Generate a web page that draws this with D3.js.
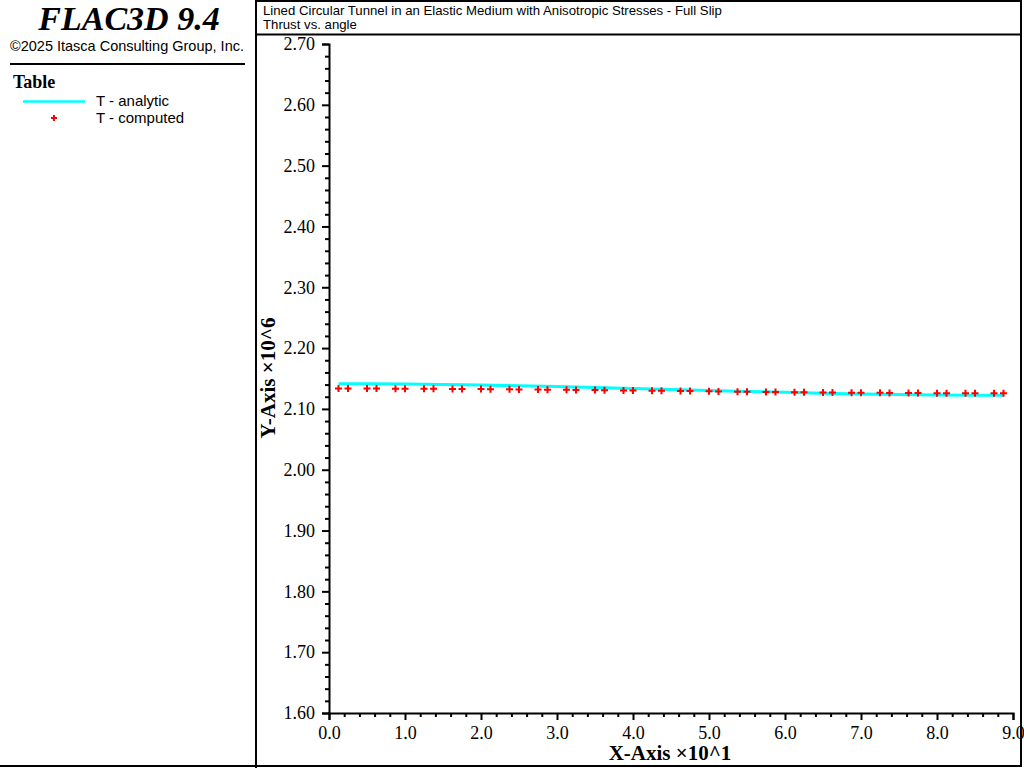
<!DOCTYPE html>
<html><head><meta charset="utf-8">
<script src="https://cdn.jsdelivr.net/npm/d3@7"></script>
<style>
html,body{margin:0;padding:0;background:#fff;}
svg{display:block;}
</style></head>
<body>
<svg id="c" width="1024" height="768"></svg>
<script>
// ---- data (Y in units of 10^6, X in degrees) ----
const analyticX = [1.25, 5, 10, 15, 20, 25, 30, 35, 40, 45, 50, 55, 60, 65, 70, 75, 80, 85, 88.75];
const analyticY = [2.1414, 2.1413, 2.1408, 2.1401, 2.1392, 2.1380, 2.1367, 2.1351, 2.1336, 2.1319,
                   2.1302, 2.1287, 2.1272, 2.1258, 2.1246, 2.1237, 2.1230, 2.1225, 2.1224];
const computedX = [1.25, 2.5, 5, 6.25, 8.75, 10, 12.5, 13.75, 16.25, 17.5, 20, 21.25, 23.75, 25,
                   27.5, 28.75, 31.25, 32.5, 35, 36.25, 38.75, 40, 42.5, 43.75, 46.25, 47.5, 50,
                   51.25, 53.75, 55, 57.5, 58.75, 61.25, 62.5, 65, 66.25, 68.75, 70, 72.5, 73.75,
                   76.25, 77.5, 80, 81.25, 83.75, 85, 87.5, 88.75];
const computedY = [2.1335, 2.1335, 2.1334, 2.1334, 2.1333, 2.1333, 2.1331, 2.1331, 2.1329, 2.1328,
                   2.1326, 2.1325, 2.1322, 2.1321, 2.1318, 2.1317, 2.1314, 2.1312, 2.1309, 2.1308,
                   2.1304, 2.1303, 2.1299, 2.1298, 2.1294, 2.1293, 2.1289, 2.1288, 2.1284, 2.1283,
                   2.1280, 2.1278, 2.1275, 2.1274, 2.1271, 2.1270, 2.1267, 2.1266, 2.1264, 2.1263,
                   2.1261, 2.1261, 2.1259, 2.1259, 2.1258, 2.1258, 2.1257, 2.1257];
const xMajorTicks = [0, 10, 20, 30, 40, 50, 60, 70, 80, 90];
const xTickLabels = ["0.0", "1.0", "2.0", "3.0", "4.0", "5.0", "6.0", "7.0", "8.0", "9.0"];
const yMajorTicks = [1.6, 1.7, 1.8, 1.9, 2.0, 2.1, 2.2, 2.3, 2.4, 2.5, 2.6, 2.7];
const yTickLabels = ["1.60", "1.70", "1.80", "1.90", "2.00", "2.10", "2.20", "2.30", "2.40", "2.50", "2.60", "2.70"];
const legendLabels = ["T - analytic", "T - computed"];

const svg = d3.select("#c");
const serif = "'Liberation Serif','Times New Roman',serif";
const sans = "'Liberation Sans',Arial,sans-serif";

// frames
const frame = (x1, y1, x2, y2) => svg.append("line").attr("x1", x1).attr("y1", y1).attr("x2", x2).attr("y2", y2)
  .attr("stroke", "#000").attr("stroke-width", 2);
frame(256, 0, 256, 768);
frame(255, 1, 1022, 1);
frame(256, 34.5, 1022, 34.5);
frame(1021, 0, 1021, 767);
frame(0, 766, 1022, 766);

// left panel
svg.append("text").attr("x", 129).attr("y", 30).attr("text-anchor", "middle")
  .attr("font-family", serif).attr("font-weight", "bold").attr("font-style", "italic")
  .attr("font-size", 34).text("FLAC3D 9.4");
svg.append("text").attr("x", 127).attr("y", 51).attr("text-anchor", "middle")
  .attr("font-family", sans).attr("font-size", 14.5).text("©2025 Itasca Consulting Group, Inc.");
svg.append("line").attr("x1", 10).attr("x2", 245).attr("y1", 64).attr("y2", 64)
  .attr("stroke", "#000").attr("stroke-width", 2);
svg.append("text").attr("x", 13).attr("y", 88).attr("font-family", serif)
  .attr("font-weight", "bold").attr("font-size", 18).text("Table");
svg.append("line").attr("x1", 23).attr("x2", 85).attr("y1", 101.5).attr("y2", 101.5)
  .attr("stroke", "#00ffff").attr("stroke-width", 2.5);
svg.append("text").attr("x", 96).attr("y", 106).attr("font-family", sans)
  .attr("font-size", 15).text(legendLabels[0]);
const lp = svg.append("g").attr("transform", "translate(54,118)");
lp.append("path").attr("d", "M-3,0H3M0,-3V3").attr("stroke", "#ff0000").attr("stroke-width", 2);
svg.append("text").attr("x", 96).attr("y", 123).attr("font-family", sans)
  .attr("font-size", 15).text(legendLabels[1]);

// chart title
svg.append("text").attr("x", 263).attr("y", 15).attr("font-family", sans)
  .attr("font-size", 13.2).text("Lined Circular Tunnel in an Elastic Medium with Anisotropic Stresses - Full Slip");
svg.append("text").attr("x", 263).attr("y", 29).attr("font-family", sans)
  .attr("font-size", 13.2).text("Thrust vs. angle");

// scales
const x = d3.scaleLinear().domain([0, 90]).range([329, 1013]);
const y = d3.scaleLinear().domain([1.6, 2.7]).range([713, 44]);

const xMinor = d3.range(0, 91, 2).filter(v => v % 10 !== 0);
const yMinor = d3.range(0, 56).map(i => +(1.6 + i * 0.02).toFixed(2)).filter(v => Math.abs(v * 10 - Math.round(v * 10)) > 1e-6);

// x axis
const gx = svg.append("g").attr("transform", `translate(0,${y(1.6)})`);
gx.call(d3.axisBottom(x).tickValues(xMinor).tickSize(4).tickFormat(""))
  .call(g => g.select(".domain").remove());
const gx2 = svg.append("g").attr("transform", `translate(0,${y(1.6)})`);
gx2.call(d3.axisBottom(x).tickValues(xMajorTicks).tickSizeOuter(0).tickSize(7)
  .tickFormat((d, i) => xTickLabels[i]).tickPadding(6));
gx2.selectAll("text").attr("font-family", serif).attr("font-size", 18).attr("fill", "#000");

// y axis
const gy = svg.append("g").attr("transform", `translate(${x(0)},0)`);
gy.call(d3.axisLeft(y).tickValues(yMinor).tickSize(4).tickFormat(""))
  .call(g => g.select(".domain").remove());
const gy2 = svg.append("g").attr("transform", `translate(${x(0)},0)`);
gy2.call(d3.axisLeft(y).tickValues(yMajorTicks).tickSizeOuter(0).tickSize(7)
  .tickFormat((d, i) => yTickLabels[i]).tickPadding(7));
gy2.selectAll("text").attr("font-family", serif).attr("font-size", 18).attr("fill", "#000");
svg.selectAll(".tick line, .domain").attr("stroke-width", 2).attr("stroke", "#000");

// axis titles
svg.append("text").attr("x", 670).attr("y", 760).attr("text-anchor", "middle")
  .attr("font-family", serif).attr("font-weight", "bold").attr("font-size", 21).text("X-Axis ×10^1");
svg.append("text").attr("transform", "translate(275,378) rotate(-90)").attr("text-anchor", "middle")
  .attr("font-family", serif).attr("font-weight", "bold").attr("font-size", 21).text("Y-Axis ×10^6");

// analytic line
const line = d3.line().x(d => x(d[0])).y(d => y(d[1]));
svg.append("path").datum(analyticX.map((v, i) => [v, analyticY[i]]))
  .attr("d", line).attr("fill", "none").attr("stroke", "#00ffff").attr("stroke-width", 3);

// computed points
svg.append("g").selectAll("path").data(computedX.map((v, i) => [v, computedY[i]])).join("path")
  .attr("transform", d => `translate(${x(d[0])},${y(d[1])})`)
  .attr("d", "M-3.5,0H3.5M0,-3.5V3.5").attr("stroke", "#ff0000").attr("stroke-width", 2);
</script>
</body></html>
